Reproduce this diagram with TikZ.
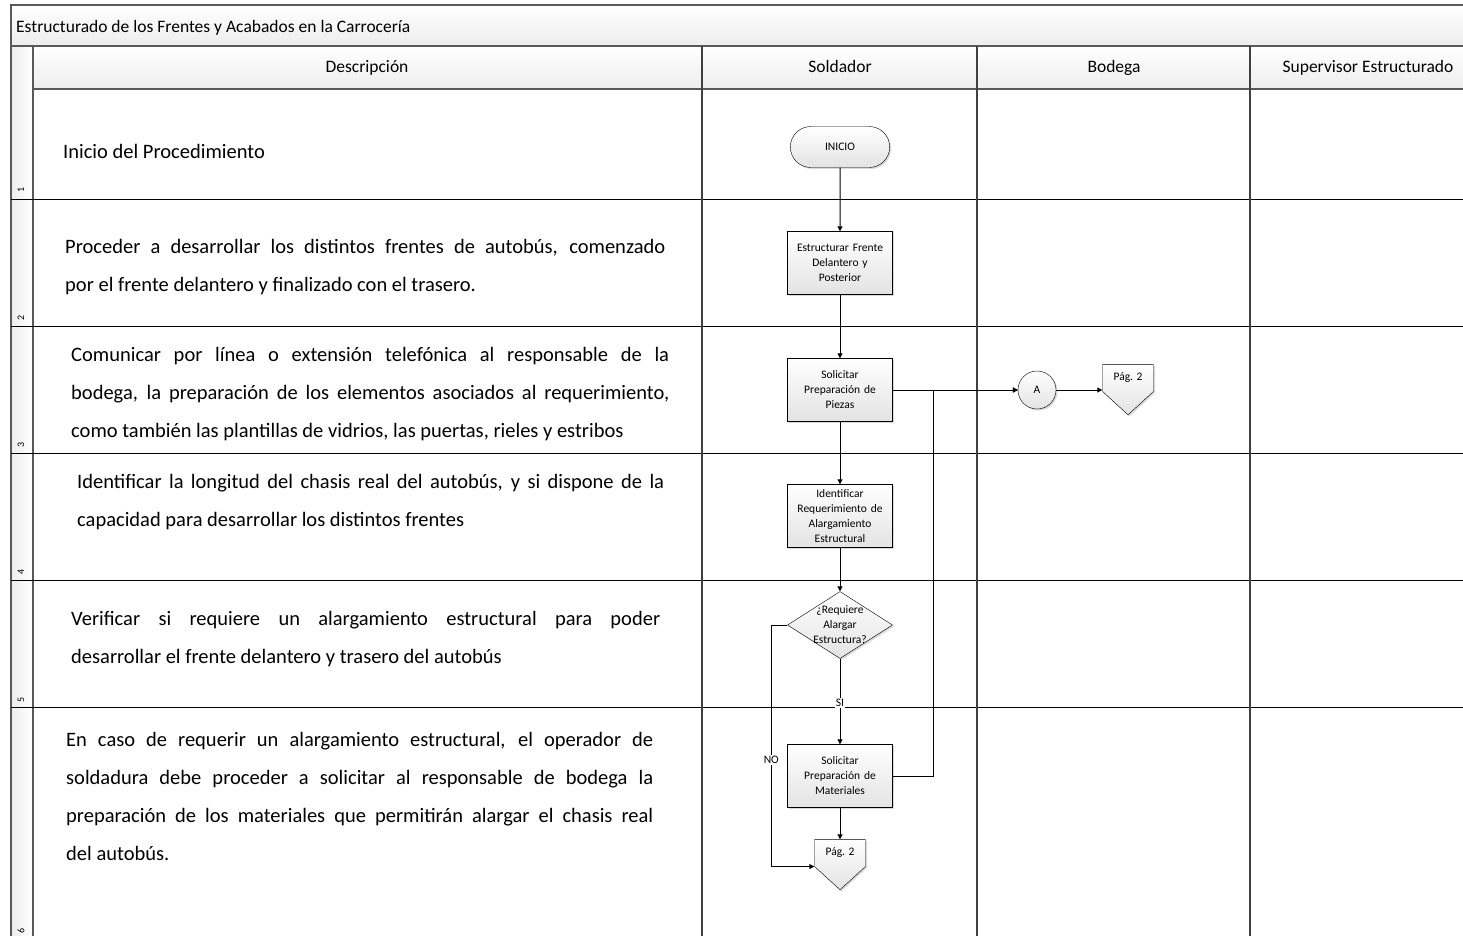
\documentclass[tikz,border=0pt]{standalone}
\usepackage{fontspec}
\setmainfont{Carlito}
\usepackage{tikz}
\usetikzlibrary{shapes.geometric, shapes.misc, shapes.symbols, arrows.meta, shadows}
\tolerance=10000
\hbadness=10000
\tikzset{
  font={\fontsize{11.5pt}{15pt}\selectfont}}

\begin{document}
\begin{tikzpicture}[x=1pt, y=-1pt,
  frame/.style={draw=gray!70!black, line width=1.5pt},
  lane/.style={draw=black!75, line width=1.5pt},
  rowline/.style={draw=black, line width=1pt},
  shade/.style={top color=white, bottom color=gray!22,
    drop shadow={shadow xshift=1.5pt, shadow yshift=-1.5pt, opacity=0.3}},
  proc/.style={draw, shape=rectangle, shade, minimum width=105pt, minimum height=63pt,
    text width=100pt, align=center, inner sep=1pt},
  offpage/.style={draw, shape=signal, signal to=south, signal pointer angle=95, shade,
    minimum width=51pt, minimum height=41pt, inner sep=1pt},
  flow/.style={-{Triangle[length=5pt,width=5pt]}, line width=1pt},
  desc/.style={anchor=west, inner sep=0pt, align=justify,
    font={\fontsize{20.5pt}{38pt}\selectfont}},
  head/.style={anchor=base, font={\fontsize{17.5pt}{20pt}\selectfont}}]
\useasboundingbox (0,0) rectangle (1463,936);
\clip (0,0) rectangle (1463,936);

\draw[frame, top color=white, bottom color=gray!14] (11,5) rectangle (1490,46);
\draw[frame, top color=white, bottom color=gray!14] (33,46) rectangle (1490,89);
\draw[frame, left color=gray!14, right color=white] (11,46) rectangle (33,960);
\foreach \y in {199,326,453,580,707}
  \draw[rowline] (11,\y) -- (1490,\y);
\foreach \x in {702,977,1250}
  \draw[lane] (\x,46) -- (\x,960);
\foreach \n/\y in {1/190,2/318,3/445,4/572,5/700,6/931}
  \node (row\n) [rotate=90, font={\fontsize{10pt}{10pt}\selectfont}] at (21,\y) {\n};

\node (title) [head, anchor=base west, inner sep=0pt] at (16,33) {Estructurado de los Frentes y Acabados en la Carrocería};
\node (hdesc) [head] at (367,73) {Descripción};
\node (hsold) [head] at (840,73) {Soldador};
\node (hbod) [head] at (1114,73) {Bodega};
\node (hsup) [head] at (1368,73) {Supervisor Estructurado};

\node (d1) [desc] at (63,151) {Inicio del Procedimiento};
\node (d2) [desc, text width=600pt] at (65,267) {Proceder a desarrollar los distintos frentes de autobús, comenzado \linebreak por el frente delantero y finalizado con el trasero.};
\node (d3) [desc, text width=598pt] at (71,394) {Comunicar por línea o extensión telefónica al responsable de la \linebreak bodega, la preparación de los elementos asociados al requerimiento, \linebreak como también las plantillas de vidrios, las puertas, rieles y estribos};
\node (d4) [desc, text width=587pt] at (77,502) {Identificar la longitud del chasis real del autobús, y si dispone de la \linebreak capacidad para desarrollar los distintos frentes};
\node (d5) [desc, text width=589pt] at (71,639) {Verificar si requiere un alargamiento estructural para poder \linebreak desarrollar el frente delantero y trasero del autobús};
\node (d6) [desc, text width=587pt] at (66,796) {En caso de requerir un alargamiento estructural, el operador de \linebreak soldadura debe proceder a solicitar al responsable de bodega la \linebreak preparación de los materiales que permitirán alargar el chasis real \linebreak del autobús.};

\node (ini) [draw, shape=rounded rectangle, shade, minimum width=106pt, minimum height=41pt] at (840,147) {INICIO};
\node (estr) [proc] at (840,263) {Estructurar Frente\\Delantero y\\Posterior};
\node (piez) [proc] at (840,390) {Solicitar\\Preparación de\\Piezas};
\node (ident) [proc] at (840,516) {Identificar\\Requerimiento de\\Alargamiento\\Estructural};
\node (dec) [draw, shape=diamond, shade, minimum width=105pt, minimum height=67pt, inner sep=0pt] at (840,625) {};
\node (dectxt) [align=center] at (dec) {¿Requiere\\Alargar\\Estructura?};
\node (mat) [proc] at (840,776) {Solicitar\\Preparación de\\Materiales};
\node (pg2) [offpage] at (840,853) {Pág. 2};
\node (conA) [draw, shape=circle, shade, minimum size=38pt, inner sep=0pt] at (1037,390) {A};
\node (pg1) [offpage] at (1128,378) {Pág. 2};

\draw[flow] (ini) -- (estr);
\draw[flow] (estr) -- (piez);
\draw[flow] (piez) -- (ident);
\draw[flow] (ident) -- (dec);
\draw[flow] (dec) -- node (si) [fill=white, inner sep=1pt, pos=0.52] {SI} (mat);
\draw[flow] (mat) -- (pg2);
\draw[flow] (dec.west) -- ++(-16,0) |- node (no) [pos=0.28, fill=white, inner sep=1pt] {NO} (pg2.south west);
\draw[flow] (piez) -- (conA);
\draw[flow] (mat.east) -- ++(41,0) |- (conA);
\draw[flow] (conA) -- (pg1.west |- conA);
\end{tikzpicture}
\end{document}
